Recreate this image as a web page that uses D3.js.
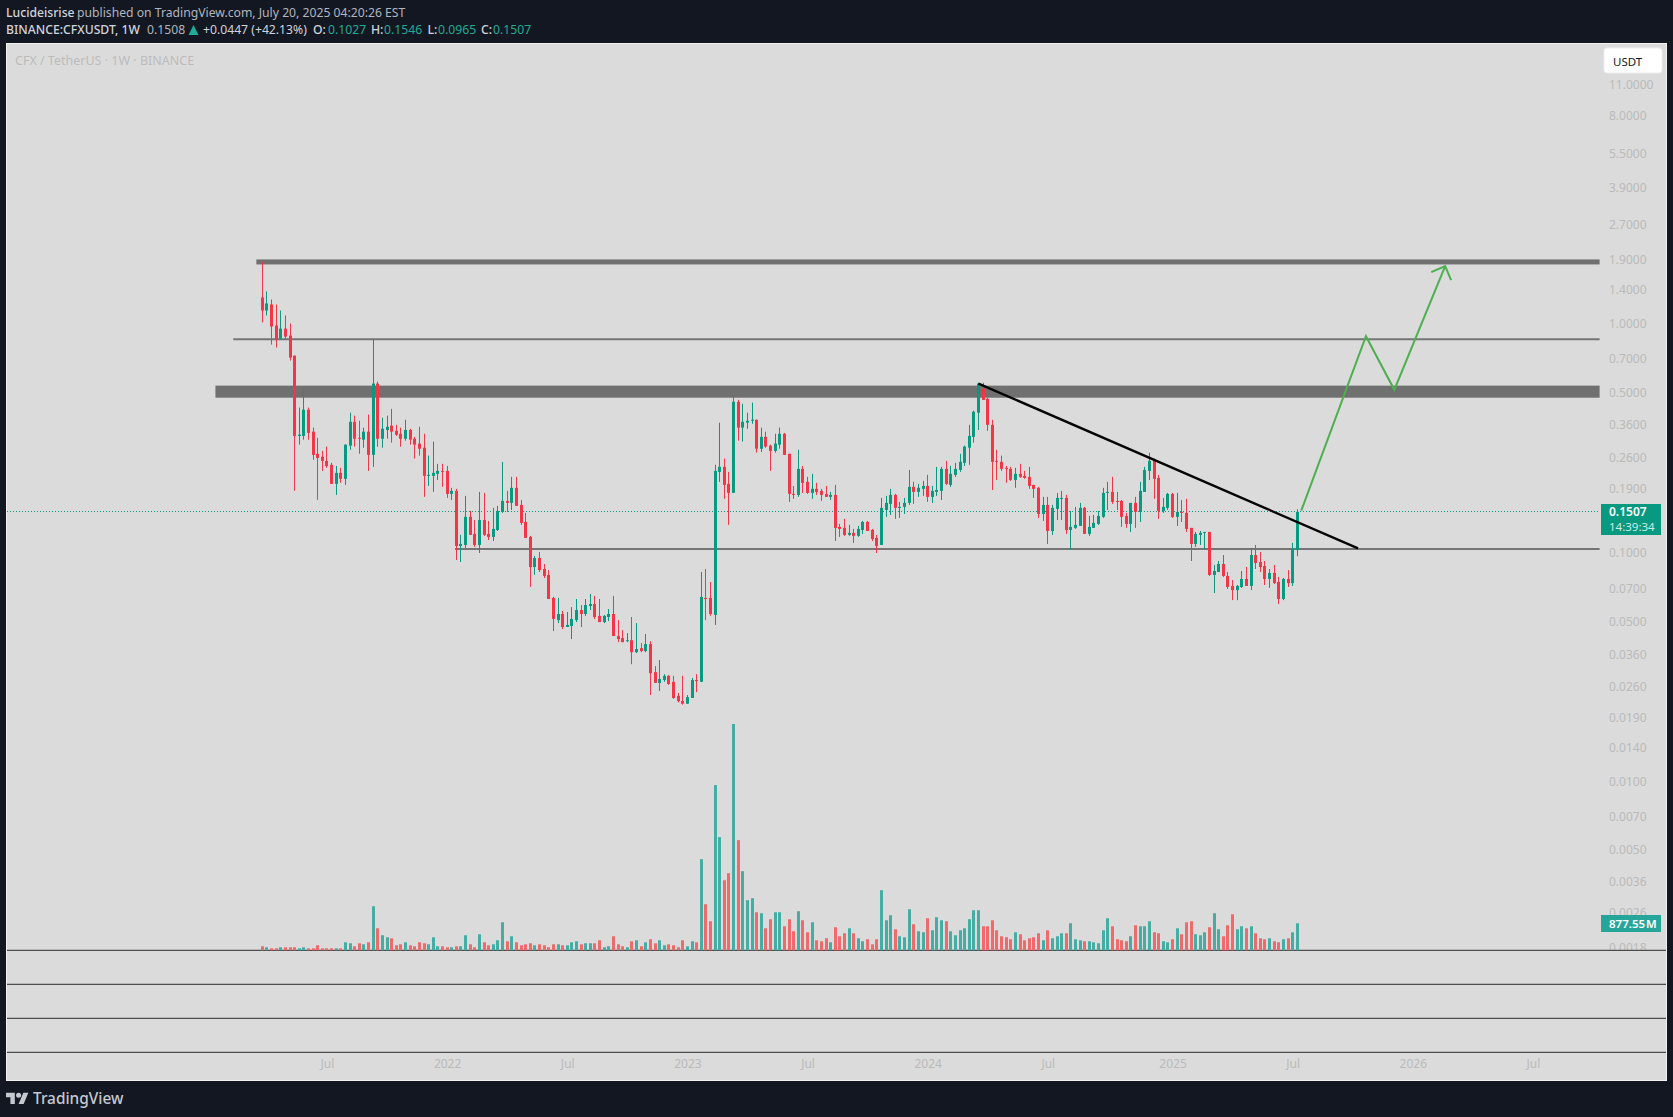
<!DOCTYPE html>
<html>
<head>
<meta charset="utf-8">
<title>CFXUSDT</title>
<script src="https://cdn.jsdelivr.net/npm/d3@7"></script>
<style>
  html, body { margin: 0; padding: 0; background: #121722; }
  svg { display: block; }
  text { font-family: "Noto Sans", sans-serif; }
</style>
</head>
<body>
<div id="chart"></div>
<script>
// weekly candles
var opens = [
1.296,1.137,1.208,.978,.858,.948,.884,.723,.323,.323,
.420,.337,.270,.262,.2515,.2416,.1996,.2229,.21,.293,
.372,.317,.311,.337,.267,.546,.314,.343,.358,.340,
.330,.314,.343,.314,.299,.287,.2163,.2163,.2207,.2274,
.2274,.1805,.186,.107,.1081,.1433,.1208,.1081,.1389,.1208,
.1172,.1256,.1506,.1682,.1649,.1918,.1616,.1362,.1172,.0866,
.0948,.0849,.08,.0635,.0508,.054,.0474,.0479,.0508,.0562,
.054,.0585,.0597,.053,.0498,.0524,.054,.0433,.0424,.0411,
.0415,.0368,.0383,.0372,.0399,.0301,.027,.0278,.029,.0273,
.0237,.0225,.0219,.0232,.0278,.0273,.0635,.0635,.0535,.2251,
.2368,.1996,.1823,.455,.351,.369,.376,.380,.284,.320,
.293,.278,.296,.330,.270,.1805,.1787,.232,.2037,.1823,
.1899,.186,.1805,.1752,.1787,.1296,.1283,.1196,.122,.1184,
.1256,.1362,.1256,.116,.1081,.1536,.1633,.1787,.1569,.1584,
.1649,.1937,.1842,.1899,.1956,.1752,.1842,.186,.232,.1976,
.2185,.2297,.2465,.287,.320,.408,.519,.469,.361,.2515,
.249,.2345,.232,.2077,.2207,.2163,.2142,.1976,.1918,.1476,
.1616,.1244,.1553,.1717,.1734,.1256,.1283,.1309,.1569,.1208,
.1283,.1335,.1433,.1823,.1842,.1682,.1682,.1447,.1335,.1649,
.1506,.1842,.2274,.2515,.212,.1521,.1569,.1805,.1433,.1506,
.1491,.1283,.1092,.1196,.122,.1232,.08,.0824,.0893,.0792,
.0716,.0687,.0709,.0768,.0716,.0977,.0911,.0875,.0768,.0816,
.0745,.0628,.0768,.0737,.1027];
var highs = [
1.860,1.376,1.270,1.208,1.137,1.081,.998,.723,.429,.524,
.429,.351,.317,.278,.290,.2465,.239,.2345,.296,.408,
.396,.376,.351,.400,.849,.557,.388,.396,.424,.361,
.351,.380,.347,.320,.354,.330,.265,.305,.244,.244,
.239,.1918,.1899,.1196,.1769,.1521,.1389,.1842,.1823,.1376,
.1569,.16,.249,.186,.2142,.2142,.1699,.1491,.1184,.0968,
.1007,.0893,.084,.0641,.0635,.0557,.0551,.0579,.0628,.0591,
.0628,.0661,.0648,.0628,.0535,.0568,.0648,.0508,.0459,.0446,
.0524,.0493,.0403,.0442,.0411,.032,.034,.0295,.0292,.029,
.0244,.029,.0239,.0284,.0295,.0824,.0849,.0745,.2416,.369,
.257,.2251,.484,.464,.446,.408,.451,.380,.351,.337,
.296,.330,.351,.333,.270,.1956,.281,.239,.2142,.2207,
.2016,.1899,.1956,.1842,.1976,.1335,.1404,.1322,.127,.1309,
.1376,.1376,.127,.1196,.1734,.1769,.1899,.1805,.1666,.1734,
.2297,.2037,.1996,.2057,.2185,.1956,.2368,.2368,.2515,.239,
.2465,.270,.293,.361,.416,.551,.551,.474,.380,.281,
.265,.239,.2368,.2345,.244,.2274,.2368,.1976,.1937,.1752,
.1752,.1616,.1823,.186,.1787,.1521,.1584,.1649,.1584,.1447,
.1461,.1521,.1918,.2037,.2142,.1842,.1699,.1491,.1649,.1752,
.2037,.2368,.273,.257,.2185,.1734,.1823,.1823,.1823,.1699,
.1717,.1283,.1232,.1244,.1232,.1232,.0884,.092,.0977,.0824,
.076,.0723,.0832,.0866,.1049,.1081,.1007,.092,.0849,.0884,
.0784,.0776,.084,.1103,.1546];
var lows = [
1.008,1.081,.808,.784,.849,.849,.688,.186,.296,.311,
.311,.254,.170,.2274,.2345,.1996,.1787,.2016,.1976,.281,
.290,.270,.287,.2274,.2368,.290,.287,.314,.302,.323,
.290,.308,.296,.257,.265,.1752,.1956,.1842,.2077,.1937,
.1734,.1699,.0929,.0911,.1049,.1196,.106,.0997,.1184,.1136,
.1125,.1244,.1491,.1506,.1536,.16,.1322,.116,.0709,.08,
.0824,.0776,.0628,.0455,.0493,.0464,.0474,.042,.0498,.0474,
.053,.0562,.0514,.0498,.0493,.0503,.0433,.0407,.0407,.0407,
.0326,.0365,.0368,.0368,.0239,.027,.0249,.0273,.0265,.023,
.0222,.0217,.0219,.0232,.0246,.0273,.0508,.053,.0484,.2037,
.1717,.1322,.1823,.308,.305,.347,.365,.273,.275,.287,
.2274,.273,.284,.267,.1666,.1717,.1752,.1823,.1805,.1717,
.1787,.1682,.1752,.1699,.1125,.1172,.1184,.1184,.1103,.1172,
.1208,.1244,.1125,.0997,.1081,.1433,.1461,.1404,.1418,.1476,
.1616,.1633,.1752,.1769,.1666,.1649,.1769,.1699,.1976,.1937,
.2142,.2251,.239,.2416,.302,.343,.464,.340,.1878,.2077,
.2274,.2016,.2057,.1918,.212,.21,.1899,.1734,.1418,.1376,
.1092,.1196,.1389,.1389,.1208,.1027,.127,.1309,.1208,.1184,
.1283,.1322,.1418,.1536,.1633,.1536,.1296,.1283,.1232,.1283,
.1362,.1842,.2077,.1717,.1404,.1491,.1536,.1418,.1309,.1362,
.1232,.092,.106,.1081,.1038,.0792,.0667,.0824,.0784,.0695,
.0621,.0621,.0702,.0716,.0687,.0849,.0824,.0723,.0702,.073,
.0597,.0621,.0709,.0716,.0965];
var closes = [
1.137,1.220,.968,.849,.948,.875,.709,.323,.327,.420,
.333,.267,.259,.2515,.239,.1996,.2229,.21,.296,.372,
.314,.314,.337,.267,.546,.314,.347,.354,.337,.327,
.314,.343,.311,.296,.284,.2163,.2185,.2229,.2274,.2251,
.1805,.186,.107,.1092,.1433,.1196,.1081,.1389,.1196,.1172,
.127,.1521,.1682,.1649,.1918,.16,.1349,.116,.0866,.0948,
.084,.0792,.0628,.0514,.054,.0474,.0484,.0514,.0562,.054,
.0591,.0597,.0524,.0498,.053,.054,.0433,.042,.0407,.0415,
.0368,.038,.0372,.0399,.0298,.027,.0281,.029,.0267,.0232,
.0225,.0219,.0234,.0278,.0275,.0641,.0628,.054,.2274,.2368,
.1976,.1823,.455,.351,.372,.376,.380,.284,.320,.290,
.278,.299,.330,.267,.1805,.1787,.232,.2016,.1823,.1899,
.1842,.1787,.1752,.1787,.1283,.127,.1196,.122,.1184,.127,
.1362,.1244,.1148,.107,.1569,.1649,.1787,.1569,.1584,.1649,
.1937,.1842,.1918,.1956,.1752,.186,.1878,.232,.1996,.2207,
.232,.249,.290,.323,.412,.546,.464,.361,.249,.249,
.232,.232,.2077,.2207,.2142,.212,.1956,.1899,.1476,.1616,
.1244,.1569,.1734,.1734,.1256,.1296,.1322,.1569,.1208,.1296,
.1349,.1447,.1823,.1842,.1666,.1666,.1433,.1335,.1649,.1506,
.186,.2297,.2515,.21,.1521,.1584,.1805,.1433,.1506,.1491,
.127,.1092,.1208,.122,.1232,.08,.0832,.0893,.0792,.0709,
.0687,.0716,.0768,.0716,.0977,.0902,.0866,.0768,.0816,.0737,
.0628,.0768,.0737,.1038,.1507];
// volume in millions
var volumes = [
130,98,65,65,98,98,98,98,65,98,
65,65,163,65,65,65,65,65,260,228,
130,228,195,260,1430,715,488,423,390,163,
195,260,163,130,260,228,195,423,130,130,
98,98,130,130,488,195,98,520,260,163,
195,325,910,293,455,260,163,195,228,163,
195,163,98,195,195,163,163,260,293,195,
228,228,228,325,98,130,455,195,130,98,
293,325,130,260,358,228,325,163,195,163,
98,325,130,293,260,2958,1495,943,5363,3673,
2275,2503,7345,3575,2568,1625,1690,1235,1203,715,
1008,1235,1235,780,1008,618,1268,975,585,910,
325,293,390,260,748,455,553,715,553,390,
293,358,195,358,1950,975,1138,683,455,423,
1333,845,618,585,1040,650,1073,975,943,618,
488,650,715,1008,1300,1300,780,780,975,650,
455,423,358,585,520,325,390,423,553,325,
650,390,455,553,553,878,358,325,293,293,
260,228,650,1040,780,358,325,293,455,813,
780,780,943,585,553,293,260,358,715,520,
910,943,520,488,585,748,1203,683,455,813,
1170,683,780,715,780,553,390,358,390,293,
260,358,390,585,877.55];

var firstWeek = "2021-03-29";
var lastWeek = "2025-07-14";

var priceTicks = [11,8,5.5,3.9,2.7,1.9,1.4,1,.7,.5,.36,.26,.19,.1,.07,.05,.036,.026,.019,.014,.01,.007,.005,.0036,.0026,.0018];
var dateTicks = ["2021-07-05","2022-01-03","2022-07-04","2023-01-02","2023-07-03","2024-01-01","2024-07-01","2025-01-06","2025-07-07","2026-01-05","2026-07-06"];
var dateLabels = ["Jul","2022","Jul","2023","Jul","2024","Jul","2025","Jul","2026","Jul"];

// drawings on the chart: [start date, price level(s)]
var bandStarts = ["2021-03-20","2021-01-17"];
var bandTops = [1.898,.535];
var bandBottoms = [1.805,.474];
var lineStarts = ["2021-02-13","2022-01-15"];
var linePrices = [.852,.1038];
var rayEnd = "2026-10-15";

var trendDates = ["2024-03-18","2025-10-14"];
var trendPrices = [.546,.1044];

var pathDates = ["2025-07-20","2025-10-26","2025-12-08","2026-02-23"];
var pathPrices = [.1525,.878,.513,1.775];
var headDates = ["2026-02-02","2026-02-23","2026-03-04"];
var headPrices = [1.670,1.775,1.541];

var lastPrice = 0.1507;
var lastVolume = 877.55;

var W = 1673, H = 1117;
var green = "#089981", red = "#f23645";
var greenVol = "#45ada3", redVol = "#ef6b6b";
var axisText = "#bababa";

var parseDay = d3.utcParse("%Y-%m-%d");

var svg = d3.select("#chart").append("svg").attr("width", W).attr("height", H);

svg.append("rect").attr("width", W).attr("height", H).attr("fill", "#121722");
svg.append("rect").attr("x", 6.5).attr("y", 43.5).attr("width", 1660).attr("height", 1037)
  .attr("fill", "#dbdbdb").attr("stroke", "#f2f2f2");

// scales
var x = d3.scaleUtc().domain([parseDay(firstWeek), parseDay(lastWeek)]).range([262.3, 1297.3]);
var yLog = d3.scaleLog().domain([1.0001, 0.1001]).range([323.3, 552.7]);
function y(p) { return yLog(p + 0.0001); } // the price scale keeps a small offset
var vol = d3.scaleLinear().domain([0, 7345]).range([950.3, 724]);

var candles = opens.map(function(o, i) {
  return {
    date: d3.utcDay.offset(parseDay(firstWeek), i * 7),
    o: o, h: highs[i], l: lows[i], c: closes[i], v: volumes[i]
  };
});

svg.append("defs").append("clipPath").attr("id", "priceClip").append("rect")
  .attr("x", 1601).attr("y", 43).attr("width", 66).attr("height", 907);

// price axis
var yAxis = d3.axisRight(yLog)
  .tickValues(priceTicks.map(function(p) { return p + 0.0001; }))
  .tickFormat(function(d) { return (d - 0.0001).toFixed(4); })
  .tickSize(0).tickPadding(0);
var yg = svg.append("g").attr("clip-path", "url(#priceClip)")
  .append("g").attr("transform", "translate(1609,0)").call(yAxis);
yg.select(".domain").remove();
yg.selectAll("text").attr("fill", axisText).style("font-size", "12px").style("font-family", "'Noto Sans', sans-serif");

// time axis
var xAxis = d3.axisBottom(x)
  .tickValues(dateTicks.map(parseDay))
  .tickFormat(function(d, i) { return dateLabels[i]; })
  .tickSize(0).tickPadding(0);
var xg = svg.append("g").attr("transform", "translate(0,1059)").call(xAxis);
xg.select(".domain").remove();
xg.selectAll("text").attr("fill", axisText).style("font-size", "12px").style("font-family", "'Noto Sans', sans-serif");

// pane separators
[950.3, 984.3, 1018.3, 1052.3].forEach(function(sy) {
  svg.append("line").attr("x1", 7).attr("x2", 1666).attr("y1", sy).attr("y2", sy)
    .attr("stroke", "#2b2b2b").attr("stroke-width", 1);
});

// support / resistance
bandStarts.forEach(function(d, i) {
  svg.append("rect")
    .attr("x", x(parseDay(d))).attr("width", x(parseDay(rayEnd)) - x(parseDay(d)))
    .attr("y", y(bandTops[i])).attr("height", y(bandBottoms[i]) - y(bandTops[i]))
    .attr("fill", "#707070");
});
lineStarts.forEach(function(d, i) {
  svg.append("line")
    .attr("x1", x(parseDay(d))).attr("x2", x(parseDay(rayEnd)))
    .attr("y1", y(linePrices[i])).attr("y2", y(linePrices[i]))
    .attr("stroke", "#757575").attr("stroke-width", 2);
});

// last price line
var lastY = Math.floor(y(lastPrice)) + 0.5;
svg.append("line").attr("x1", 7).attr("x2", 1598).attr("y1", lastY).attr("y2", lastY)
  .attr("stroke", green).attr("stroke-width", 1).attr("stroke-dasharray", "1 2");

// volume bars
svg.selectAll(".vol").data(candles).enter().append("rect").attr("class", "vol")
  .attr("x", function(d) { return Math.floor(x(d.date)) - 1; })
  .attr("width", 3)
  .attr("y", function(d) { return vol(d.v); })
  .attr("height", function(d) { return vol(0) - vol(d.v); })
  .attr("fill", function(d) { return d.c >= d.o ? greenVol : redVol; });

// candles
svg.selectAll(".wick").data(candles).enter().append("rect").attr("class", "wick")
  .attr("x", function(d) { return Math.floor(x(d.date)); })
  .attr("width", 1)
  .attr("y", function(d) { return y(d.h); })
  .attr("height", function(d) { return y(d.l) - y(d.h); })
  .attr("fill", function(d) { return d.c >= d.o ? green : red; });

svg.selectAll(".body").data(candles).enter().append("rect").attr("class", "body")
  .attr("x", function(d) { return Math.floor(x(d.date)) - 1; })
  .attr("width", 3)
  .attr("y", function(d) { return y(Math.max(d.o, d.c)); })
  .attr("height", function(d) { return Math.max(1, Math.abs(y(d.o) - y(d.c))); })
  .attr("fill", function(d) { return d.c >= d.o ? green : red; });

// trend line and projection
var drawn = d3.line()
  .x(function(d) { return x(parseDay(d[0])); })
  .y(function(d) { return y(d[1]); });

svg.append("path").attr("d", drawn(d3.zip(trendDates, trendPrices)))
  .attr("fill", "none").attr("stroke", "#050505").attr("stroke-width", 2.4);
svg.append("path").attr("d", drawn(d3.zip(pathDates, pathPrices)))
  .attr("fill", "none").attr("stroke", "#4caf50").attr("stroke-width", 2);
svg.append("path").attr("d", drawn(d3.zip(headDates, headPrices)))
  .attr("fill", "none").attr("stroke", "#4caf50").attr("stroke-width", 2);

// watermark
svg.append("text").attr("x", 15).attr("y", 65).attr("fill", "#bcbcbc")
  .style("font-size", "12.5px").text("CFX / TetherUS · 1W · BINANCE");

// currency button
svg.append("rect").attr("x", 1604).attr("y", 48).attr("width", 58).attr("height", 25).attr("rx", 3)
  .attr("fill", "#ffffff").attr("stroke", "#eeeeee");
svg.append("text").attr("x", 1613).attr("y", 65.5).attr("fill", "#131722")
  .style("font-size", "11.5px").text("USDT");

// last price label
svg.append("rect").attr("x", 1601).attr("y", 504).attr("width", 60).attr("height", 31).attr("fill", green);
svg.append("text").attr("x", 1609).attr("y", 516.4).attr("fill", "#ffffff")
  .style("font-size", "12px").style("font-weight", 600).text(lastPrice.toFixed(4));
svg.append("text").attr("x", 1609).attr("y", 530.8).attr("fill", "#cdeae4")
  .style("font-size", "11.5px").text("14:39:34");

// volume label
svg.append("rect").attr("x", 1601).attr("y", 915).attr("width", 60).attr("height", 17).attr("fill", "#26a69a");
svg.append("text").attr("x", 1609).attr("y", 927.5).attr("fill", "#ffffff")
  .style("font-size", "11.5px").style("font-weight", 600).style("word-spacing", "-2px")
  .text(lastVolume.toFixed(2) + " M");

// header
function head(tx, ty, str, color, weight) {
  svg.append("text").attr("x", tx).attr("y", ty).attr("fill", color)
    .style("font-size", "12.2px").style("font-weight", weight || 400).text(str);
}
var hiText = "#d1d4dc", loText = "#b2b5be", upText = "#22ab94";
head(6, 17, "Lucideisrise", hiText, 500);
head(77, 17, "published on TradingView.com, July 20, 2025 04:20:26 EST", loText);
head(6, 34, "BINANCE:CFXUSDT, 1W", hiText, 500);
head(147, 34, "0.1508", loText);
svg.append("path").attr("d", "M188.5 35L193.5 25L198.5 35Z").attr("fill", upText);
head(203, 34, "+0.0447 (+42.13%)", hiText);
head(313, 34, "O:", hiText, 500);
head(328, 34, "0.1027", upText);
head(371, 34, "H:", hiText, 500);
head(384, 34, "0.1546", upText);
head(427.5, 34, "L:", hiText, 500);
head(438, 34, "0.0965", upText);
head(481, 34, "C:", hiText, 500);
head(493, 34, "0.1507", upText);

// footer logo
var logo = svg.append("g").attr("transform", "translate(6,1090.2) scale(0.63)").attr("fill", "#c5c8cf");
logo.append("path").attr("d", "M14 22H7V11H0V4h14v18zM28 22h-8l7.5-18h8L28 22z");
logo.append("circle").attr("cx", 20).attr("cy", 8).attr("r", 4);
svg.append("text").attr("x", 33).attr("y", 1103.5).attr("fill", "#c5c8cf")
  .style("font-size", "15.4px").style("font-weight", 500).text("TradingView");
</script>
</body>
</html>
